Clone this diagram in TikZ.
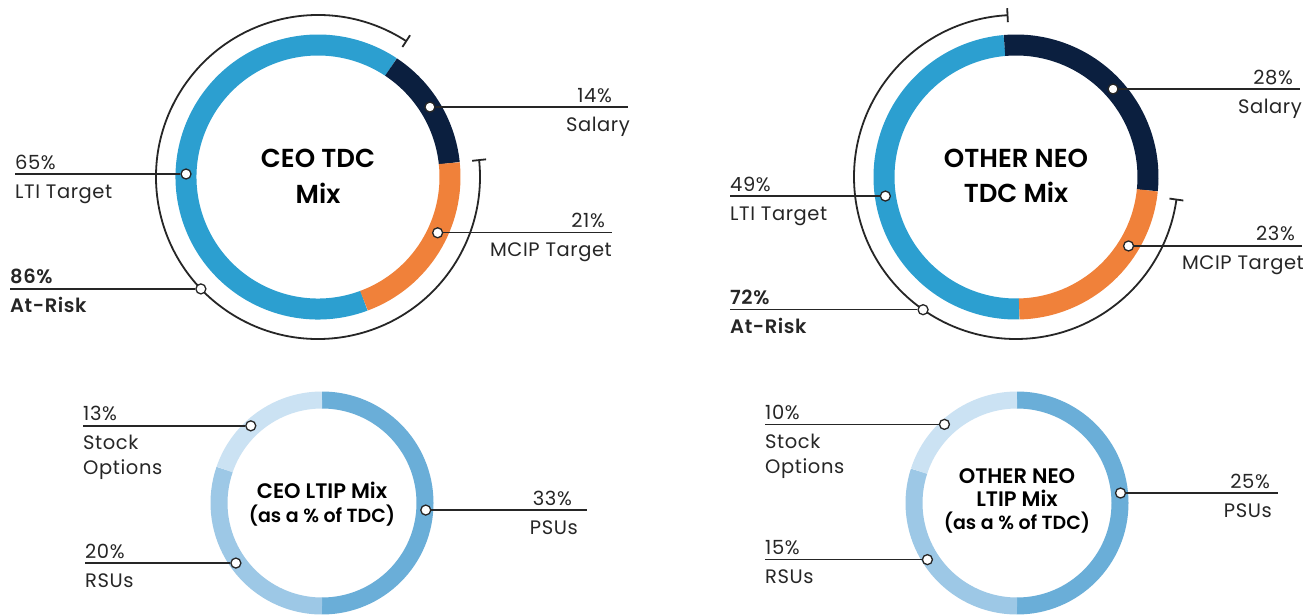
\documentclass[tikz,border=0pt]{standalone}
\usepackage{fontspec}
\setmainfont{Poppins}[BoldFont={* SemiBold}]
\newfontfamily\labfont{Poppins}[LetterSpace=3, BoldFont={* SemiBold}]
\usetikzlibrary{calc}

\definecolor{ltiblue}{HTML}{2C9FD0}
\definecolor{navy}{HTML}{0B1F3F}
\definecolor{mcip}{HTML}{F0813A}
\definecolor{psu}{HTML}{6AAED8}
\definecolor{rsu}{HTML}{9DC8E6}
\definecolor{sopt}{HTML}{CBE2F3}
\definecolor{ink}{HTML}{262626}

% ring segment: #1 centre, #2 mid radius, #3 width, #4 colour, #5 start, #6 end
\newcommand\ringseg[6]{%
  \draw[line width=#3, #4] ($(#1)+(#5:#2)$) arc[start angle=#5, end angle=#6, radius=#2];}
% bracket arc with radial end bars: #1 centre, #2 radius, #3 start, #4 end
\newcommand\riskarc[4]{%
  \draw[riskline] ($(#1)+(#3:#2)$) arc[start angle=#3, end angle=#4, radius=#2];
  \draw[riskline] ($(#1)+(#3:#2-7)$) -- ($(#1)+(#3:#2+7)$);
  \draw[riskline] ($(#1)+(#4:#2-7)$) -- ($(#1)+(#4:#2+7)$);}

\tikzset{
  x=1pt, y=1pt,
  dot/.style={circle, draw=ink, fill=white, line width=1.3pt, inner sep=0pt, minimum size=10pt},
  leader/.style={draw=ink, line width=1.4pt},
  riskline/.style={draw=ink, line width=1.8pt},
  lab/.style={font=\labfont\fontsize{19.5}{24}\selectfont, text=ink, inner sep=0pt},
  risklab/.style={font=\labfont\fontsize{19.5}{24}\selectfont\bfseries, text=ink, inner sep=0pt},
  title/.style={font=\fontsize{26}{30}\selectfont\bfseries, text=black, inner sep=0pt, anchor=base},
  subtitle/.style={font=\fontsize{21}{24}\selectfont\bfseries, text=black, inner sep=0pt, anchor=base},
  subnote/.style={font=\fontsize{19}{24}\selectfont\bfseries, text=black, inner sep=0pt, anchor=base},
}

\begin{document}
\begin{tikzpicture}
\useasboundingbox[fill=white] (0,0) rectangle (1315,614);

% centres
\coordinate (C1) at (318,437);
\coordinate (C2) at (1016,437);
\coordinate (C3) at (322,111);
\coordinate (C4) at (1017,111);

% ---------------- CEO TDC mix ----------------
\ringseg{C1}{132}{21pt}{ltiblue}{-69.6}{-303.6}
\ringseg{C1}{132}{21pt}{navy}{56.4}{6}
\ringseg{C1}{132}{21pt}{mcip}{6}{-69.6}
\riskarc{C1}{162}{57}{366}

\node[title] (t1a) at (318,446) {CEO TDC};
\node[title] (t1b) at (318,410) {Mix};

\node[dot] (d1sal) at ($(C1)+(32:132)$) {};
\node[dot] (d1lti) at ($(C1)+(178.7:132)$) {};
\node[dot] (d1mc) at ($(C1)+(-25:132)$) {};
\node[dot] (d1risk) at ($(C1)+(223.7:162)$) {};

\coordinate (e1sal) at (d1sal -| 628,0);
\coordinate (e1lti) at (d1lti -| 15,0);
\coordinate (e1mc) at (d1mc -| 612,0);
\coordinate (e1risk) at (d1risk -| 10,0);
\draw[leader] (d1sal) -- (e1sal);
\draw[leader] (d1lti) -- (e1lti);
\draw[leader] (d1mc) -- (e1mc);
\draw[leader] (d1risk) -- (e1risk);

\node[lab, anchor=base east] (l1salp) at ($(e1sal)+(-16,5)$) {14\%};
\node[lab, anchor=base east] (l1saln) at ($(e1sal)+(2,-24)$) {Salary};
\node[lab, anchor=base west] (l1ltip) at ($(e1lti)+(0,5)$) {65\%};
\node[lab, anchor=base west] (l1ltin) at ($(e1lti)+(0,-24)$) {LTI Target};
\node[lab, anchor=base east] (l1mcp) at ($(e1mc)+(-7,5)$) {21\%};
\node[lab, anchor=base east] (l1mcn) at ($(e1mc)+(0,-24)$) {MCIP Target};
\node[risklab, anchor=base west] (l1rp) at ($(e1risk)+(0,5)$) {86\%};
\node[risklab, anchor=base west] (l1rn) at ($(e1risk)+(0,-24)$) {At-Risk};

% ---------------- Other NEO TDC mix ----------------
\ringseg{C2}{132}{21pt}{ltiblue}{-88.6}{-265}
\ringseg{C2}{132}{21pt}{navy}{95}{-5.8}
\ringseg{C2}{132}{21pt}{mcip}{-5.8}{-88.6}
\riskarc{C2}{162}{93}{352}

\node[title] (t2a) at (1016,446) {OTHER NEO};
\node[title] (t2b) at (1016,411) {TDC Mix};

\node[dot] (d2sal) at ($(C2)+(42.2:131)$) {};
\node[dot] (d2lti) at ($(C2)+(188.3:132)$) {};
\node[dot] (d2mc) at ($(C2)+(-31.5:132)$) {};
\node[dot] (d2risk) at ($(C2)+(235:162)$) {};

\coordinate (e2sal) at (d2sal -| 1300,0);
\coordinate (e2lti) at (d2lti -| 730,0);
\coordinate (e2mc) at (d2mc -| 1302,0);
\coordinate (e2risk) at (d2risk -| 730,0);
\draw[leader] (d2sal) -- (e2sal);
\draw[leader] (d2lti) -- (e2lti);
\draw[leader] (d2mc) -- (e2mc);
\draw[leader] (d2risk) -- (e2risk);

\node[lab, anchor=base east] (l2salp) at ($(e2sal)+(-7,5)$) {28\%};
\node[lab, anchor=base east] (l2saln) at ($(e2sal)+(2,-24)$) {Salary};
\node[lab, anchor=base west] (l2ltip) at ($(e2lti)+(0,5)$) {49\%};
\node[lab, anchor=base west] (l2ltin) at ($(e2lti)+(0,-24)$) {LTI Target};
\node[lab, anchor=base east] (l2mcp) at ($(e2mc)+(-7,5)$) {23\%};
\node[lab, anchor=base east] (l2mcn) at ($(e2mc)+(2,-24)$) {MCIP Target};
\node[risklab, anchor=base west] (l2rp) at ($(e2risk)+(0,5)$) {72\%};
\node[risklab, anchor=base west] (l2rn) at ($(e2risk)+(0,-24)$) {At-Risk};

% ---------------- CEO LTIP mix ----------------
\ringseg{C3}{103}{17pt}{psu}{90}{-90}
\ringseg{C3}{103}{17pt}{rsu}{270}{161}
\ringseg{C3}{103}{17pt}{sopt}{161}{90}

\node[subtitle] (t3a) at (322,116) {CEO LTIP Mix};
\node[subnote] (t3b) at (322,92) {(as a \% of TDC)};

\node[dot] (d3so) at ($(C3)+(132.7:105)$) {};
\node[dot] (d3rsu) at ($(C3)+(214.9:105)$) {};
\node[dot] (d3psu) at ($(C3)+(-3.9:104)$) {};

\coordinate (e3so) at (d3so -| 83,0);
\coordinate (e3rsu) at (d3rsu -| 85,0);
\coordinate (e3psu) at (d3psu -| 587,0);
\draw[leader] (d3so) -- (e3so);
\draw[leader] (d3rsu) -- (e3rsu);
\draw[leader] (d3psu) -- (e3psu);

\node[lab, anchor=base west] (l3sop) at ($(e3so)+(0,5)$) {13\%};
\node[lab, anchor=base west] (l3son1) at ($(e3so)+(0,-24)$) {Stock};
\node[lab, anchor=base west] (l3son2) at ($(e3so)+(0,-49)$) {Options};
\node[lab, anchor=base west] (l3rsup) at ($(e3rsu)+(0,5)$) {20\%};
\node[lab, anchor=base west] (l3rsun) at ($(e3rsu)+(0,-24)$) {RSUs};
\node[lab, anchor=base east] (l3psup) at ($(e3psu)+(-15,5)$) {33\%};
\node[lab, anchor=base east] (l3psun) at ($(e3psu)+(-9,-24)$) {PSUs};

% ---------------- Other NEO LTIP mix ----------------
\ringseg{C4}{103}{17pt}{psu}{90}{-90}
\ringseg{C4}{103}{17pt}{rsu}{270}{162}
\ringseg{C4}{103}{17pt}{sopt}{162}{90}

\node[subtitle] (t4a) at (1017,131) {OTHER NEO};
\node[subtitle] (t4b) at (1017,108) {LTIP Mix};
\node[subnote] (t4c) at (1017,85) {(as a \% of TDC)};

\node[dot] (d4so) at ($(C4)+(132.7:107)$) {};
\node[dot] (d4rsu) at ($(C4)+(212.3:106)$) {};
\node[dot] (d4psu) at ($(C4)+(5.5:104)$) {};

\coordinate (e4so) at (d4so -| 765,0);
\coordinate (e4rsu) at (d4rsu -| 765,0);
\coordinate (e4psu) at (d4psu -| 1278,0);
\draw[leader] (d4so) -- (e4so);
\draw[leader] (d4rsu) -- (e4rsu);
\draw[leader] (d4psu) -- (e4psu);

\node[lab, anchor=base west] (l4sop) at ($(e4so)+(0,5)$) {10\%};
\node[lab, anchor=base west] (l4son1) at ($(e4so)+(0,-24)$) {Stock};
\node[lab, anchor=base west] (l4son2) at ($(e4so)+(0,-49)$) {Options};
\node[lab, anchor=base west] (l4rsup) at ($(e4rsu)+(0,5)$) {15\%};
\node[lab, anchor=base west] (l4rsun) at ($(e4rsu)+(0,-24)$) {RSUs};
\node[lab, anchor=base east] (l4psup) at ($(e4psu)+(-8,5)$) {25\%};
\node[lab, anchor=base east] (l4psun) at ($(e4psu)+(-6,-24)$) {PSUs};
\end{tikzpicture}
\end{document}
